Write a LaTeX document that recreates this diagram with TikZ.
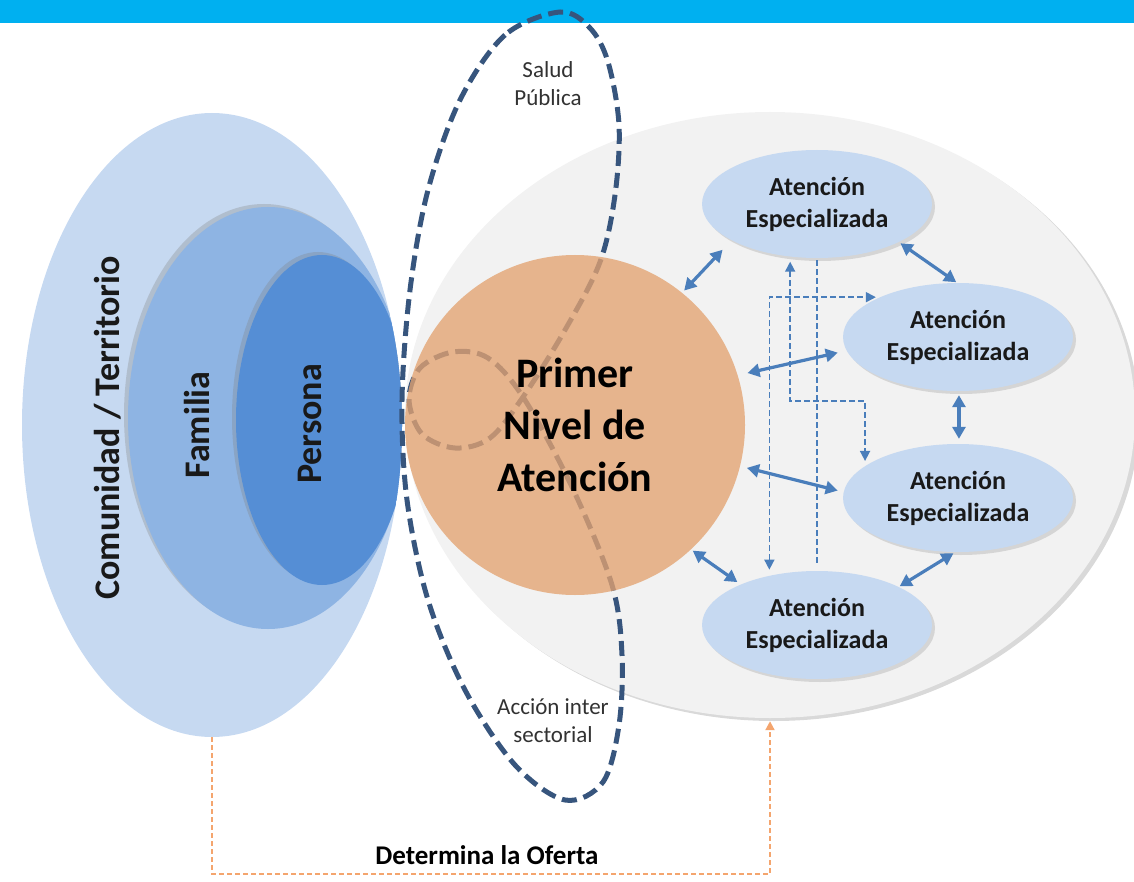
\documentclass[tikz,border=0pt]{standalone}
\usepackage{fontspec}
\setmainfont{Carlito}
\usetikzlibrary{shapes.geometric,arrows.meta,shadows,calc}
\definecolor{topbar}{RGB}{0,176,240}
\definecolor{comC}{RGB}{198,217,241}
\definecolor{famC}{RGB}{142,180,227}
\definecolor{perC}{RGB}{85,142,213}
\definecolor{grayE}{RGB}{242,242,242}
\definecolor{pnC}{RGB}{227,163,113}
\definecolor{loopC}{RGB}{55,85,125}
\definecolor{arrC}{RGB}{74,126,187}
\definecolor{espC}{RGB}{198,217,241}
\definecolor{ofC}{RGB}{244,165,110}
\definecolor{txtG}{RGB}{50,50,50}
\tikzset{
  espbox/.style={ellipse, fill=espC, minimum width=230pt, minimum height=108pt, inner sep=0pt,
    align=center, font=\bfseries\fontsize{26}{32}\selectfont, text=black!90,
    drop shadow={opacity=0.25, shadow xshift=3pt, shadow yshift=-3pt}},
  dblarrow/.style={draw=arrC, line width=3.2pt,
    arrows={Triangle[length=12pt,width=13pt]-Triangle[length=12pt,width=13pt]}},
  dasharrow/.style={draw=arrC, line width=1.6pt, dash pattern=on 6pt off 3pt},
  dtip/.style={arrows={Triangle[length=10pt,width=10pt]-Triangle[length=10pt,width=10pt]}},
  loopline/.style={draw=loopC, line width=5pt, dash pattern=on 15pt off 7pt},
  sidetext/.style={font=\bfseries\fontsize{36}{40}\selectfont, text=black!90, rotate=90},
  thintext/.style={font=\fontsize{23}{28}\selectfont, text=txtG, align=center},
}
\begin{document}
\begin{tikzpicture}[x=1pt,y=-1pt]
\useasboundingbox (0,0) rectangle (1134,882);
% top bar
\fill[topbar] (0,0) rectangle (1134,23);
% big gray ellipse
\node[ellipse, fill=grayE, minimum width=730pt, minimum height=606pt, inner sep=0pt,
  drop shadow={opacity=0.3, shadow xshift=4pt, shadow yshift=-3pt}] (ae) at (770,415) {};
% left nested ellipses
\node[ellipse, fill=comC, minimum width=380pt, minimum height=624pt, inner sep=0pt] (com) at (212,425) {};
\begin{scope}
  \clip (212,425) ellipse [x radius=190, y radius=312];
  \node[ellipse, fill=famC, minimum width=280pt, minimum height=422pt, inner sep=0pt,
    drop shadow={opacity=0.3, shadow xshift=-4pt, shadow yshift=3pt}] (fam) at (268,418) {};
  \node[ellipse, fill=perC, minimum width=172pt, minimum height=330pt, inner sep=0pt,
    drop shadow={opacity=0.3, shadow xshift=-4pt, shadow yshift=3pt}] (per) at (322,420) {};
\end{scope}
\node[sidetext] (tcom) at (108,428) {Comunidad / Territorio};
\node[sidetext] (tfam) at (197,425) {Familia};
\node[sidetext] (tper) at (310,424) {Persona};
% dashed loop
\draw[loopline] plot[smooth cycle, tension=0.55] coordinates {(560,12) (505,35) (460,100) (428,190) (410,290) (402,400) (407,500) (428,600) (465,690) (515,765) (565,800) (603,782) (619,725) (622,655) (612,585) (572,487) (523,397) (488,358) (453,352) (420,368) (409,400) (422,434) (455,448) (490,438) (523,397) (565,330) (600,262) (615,195) (619,125) (608,62) (590,28)};
% primer nivel
\node[circle, fill=pnC, fill opacity=0.78, text opacity=1, minimum size=340pt, inner sep=0pt,
  align=center, font=\bfseries\fontsize{42}{52}\selectfont, text=black] (pn) at (575,425) {Primer\\Nivel de\\Atención};
% specialized
\node[espbox] (e1) at (817,204) {Atención\\Especializada};
\node[espbox] (e2) at (958,337) {Atención\\Especializada};
\node[espbox] (e3) at (958,498) {Atención\\Especializada};
\node[espbox] (e4) at (817,625) {Atención\\Especializada};
% solid double arrows
\draw[dblarrow, shorten <=3pt, shorten >=13pt] (pn.51) -- (e1.203);
\draw[dblarrow, shorten <=2pt, shorten >=1pt] (e1.335) -- (e2.91);
\draw[dblarrow, shorten <=10pt, shorten >=9pt] (pn.17) -- (e2.187);
\draw[dblarrow, shorten <=4pt, shorten >=5pt] (e2.271) -- (e3.89);
\draw[dblarrow, shorten <=7pt, shorten >=6pt] (pn.346) -- (e3.177);
\draw[dblarrow, shorten <=2pt, shorten >=4pt] (pn.313) -- (e4.152);
\draw[dblarrow, shorten <=2pt, shorten >=1pt] (e3.267) -- (e4.25);
% dashed connectors
\draw[dasharrow, dtip, shorten <=6pt, shorten >=4pt] (e4.134.5) |- (e2.153.6);
\draw[dasharrow, dtip, shorten <=5pt, shorten >=5pt] (e1.243.8) |- ($(e3.161.9)+(0,-65)$) -- (e3.161.9);
\draw[dasharrow, shorten <=2pt, shorten >=5pt] (e1.south) -- (e4.north);
% labels of loop
\node[thintext] (salud) at (548,84) {Salud\\Pública};
\node[thintext] (accion) at (553,721) {Acción inter\\sectorial};
% determina la oferta
\coordinate (ofl) at (com.south |- 0,874);
\draw[ofC, line width=2pt, dash pattern=on 5pt off 3pt, arrows={-Triangle[length=9pt,width=9pt]}, shorten >=3pt]
  (com.south) -- (ofl) -| (ae.south);
\node[font=\bfseries\fontsize{27}{30}\selectfont, text=black] (oferta) at (487,855) {Determina la Oferta};
\end{tikzpicture}
\end{document}
